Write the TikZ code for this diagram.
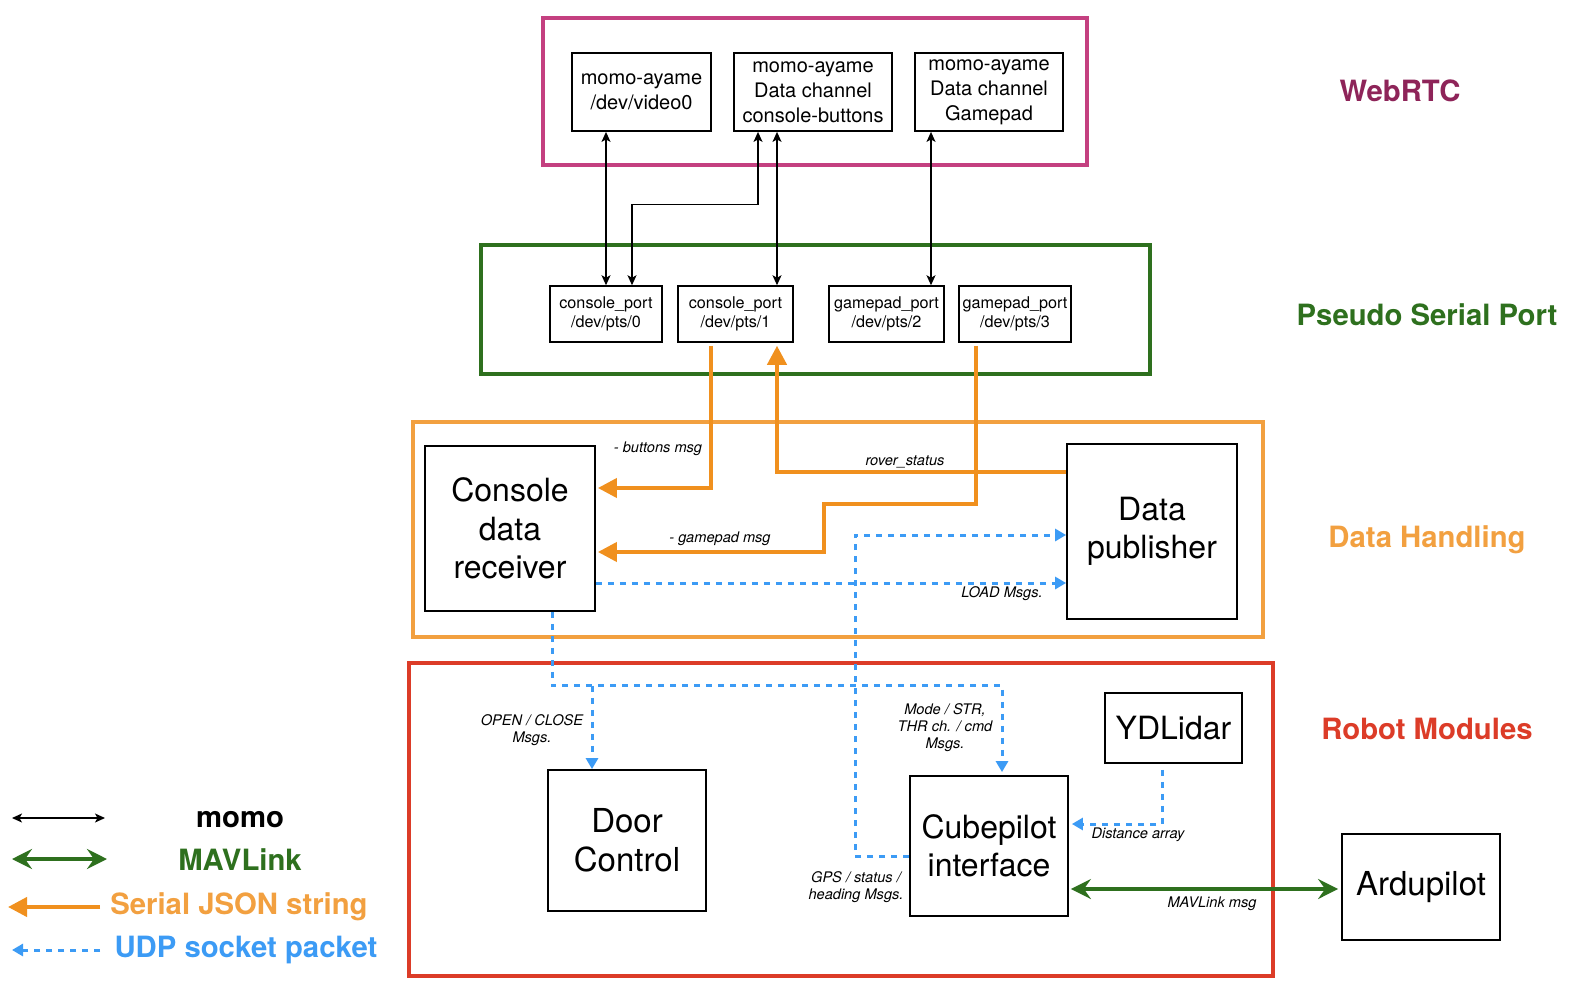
\documentclass[tikz,border=0pt]{standalone}
\usepackage{fontspec}
\setmainfont{TeX Gyre Heros}
\usetikzlibrary{arrows.meta,calc}
\definecolor{webc}{RGB}{196,64,128}
\definecolor{webt}{RGB}{142,36,89}
\definecolor{mgreen}{RGB}{46,112,30}
\definecolor{sorange}{RGB}{240,144,30}
\definecolor{borange}{RGB}{242,160,64}
\definecolor{ublue}{RGB}{60,155,245}
\definecolor{rred}{RGB}{220,60,40}
\tikzset{
 box/.style={draw, line width=1.8pt, align=center, inner sep=0pt},
 topbox/.style={box, font=\fontsize{20}{25}\selectfont},
 portbox/.style={box, line width=1.5pt, font=\fontsize{16.2}{19}\selectfont, minimum height=56pt},
 bigbox/.style={box, font=\fontsize{32}{38.5}\selectfont},
 grp/.style={draw, line width=3.2pt, inner sep=0pt},
 momo/.style={line width=1.4pt, {Stealth[length=10pt,width=9pt,inset=2.5pt]}-{Stealth[length=10pt,width=9pt,inset=2.5pt]}},
 serial/.style={draw=sorange, line width=4pt, -{Triangle[length=19pt,width=19pt]}},
 udp/.style={draw=ublue, line width=3pt, dash pattern=on 6pt off 6pt, -{Triangle[length=11pt,width=12pt]}},
 mav/.style={draw=mgreen, line width=4pt, {Stealth[length=20pt,width=20pt,inset=7pt]}-{Stealth[length=20pt,width=20pt,inset=7pt]}},
 lbl/.style={font=\itshape\fontsize{14.6}{17}\selectfont, align=center, inner sep=0pt},
 title/.style={font=\bfseries\fontsize{29.3}{34}\selectfont, inner sep=0pt},
}
\begin{document}
\begin{tikzpicture}[x=1pt,y=-1pt]
\useasboundingbox[fill=white] (0,0) rectangle (1580,998);

% groups
\node[grp, draw=webc, minimum width=544pt, minimum height=147pt] (webrtc) at (815,91.5) {};
\node[grp, draw=mgreen, minimum width=669pt, minimum height=129pt] (pseudo) at (815.5,309.5) {};
\node[grp, draw=borange, minimum width=850pt, minimum height=215pt] (datah) at (838,529.5) {};
\node[grp, draw=rred, minimum width=864pt, minimum height=313pt] (robot) at (841,819.5) {};

% titles
\node[title, text=webt] (t1) at (1400,91) {WebRTC};
\node[title, text=mgreen] (t2) at (1427,315) {Pseudo Serial Port};
\node[title, text=borange] (t3) at (1427,540) {Data Handling};
\node[title, text=rred] (t4) at (1427,729) {Robot Modules};

% WebRTC boxes
\node[topbox, minimum width=139pt, minimum height=78pt] (v0) at (641.5,92) {momo-ayame\\/dev/video0};
\node[topbox, minimum width=158pt, minimum height=78pt] (dc1) at (813,92) {momo-ayame\\Data channel\\console-buttons};
\node[topbox, minimum width=148pt, minimum height=78pt] (dc2) at (989,92) {momo-ayame\\Data channel\\Gamepad};

% ports
\node[portbox, minimum width=112pt] (p0) at (606,314) {console\_port\\/dev/pts/0};
\node[portbox, minimum width=115pt] (p1) at (735.5,314) {console\_port\\/dev/pts/1};
\node[portbox, minimum width=115pt] (p2) at (886.5,314) {gamepad\_port\\/dev/pts/2};
\node[portbox, minimum width=112pt] (p3) at (1015,314) {gamepad\_port\\/dev/pts/3};

% data handling
\node[bigbox, minimum width=170pt, minimum height=165pt] (cdr) at (510,528.5) {Console\\data\\receiver};
\node[bigbox, minimum width=170pt, minimum height=175pt] (dp) at (1152,531.5) {Data\\publisher};

% robot modules
\node[bigbox, font=\fontsize{33}{39}\selectfont, minimum width=158pt, minimum height=141pt] (door) at (627,840.5) {Door\\Control};
\node[bigbox, minimum width=158pt, minimum height=140pt] (cp) at (989,846) {Cubepilot\\interface};
\node[bigbox, minimum width=137pt, minimum height=70pt] (yd) at (1173.5,728) {YDLidar};
\node[bigbox, font=\fontsize{33}{39}\selectfont, minimum width=158pt, minimum height=106pt] (ar) at (1421,887) {Ardupilot};

% momo arrows
\draw[momo] (p0.north) -- (p0.north |- v0.south);
\draw[momo] ([xshift=26pt]p0.north) -- ++(0,-81) -| ([xshift=-55pt]dc1.south);
\coordinate (c1) at ([xshift=41.5pt]p1.north);
\draw[momo] (c1) -- (c1 |- dc1.south);
\coordinate (c2) at ([xshift=44.5pt]p2.north);
\draw[momo] (c2) -- (c2 |- dc2.south);

% serial arrows
\coordinate (b1) at ([xshift=-24.5pt,yshift=-3pt]p1.south);
\coordinate (b2) at ([yshift=40.5pt]cdr.east);
\draw[serial, shorten >=2pt] (b1) |- (b2);
\coordinate (r1) at ([yshift=59.5pt]dp.west);
\coordinate (r2) at ([xshift=41.5pt,yshift=-3pt]p1.south);
\draw[serial] (r1) -| (r2);
\coordinate (g0) at ([xshift=-39pt,yshift=-3pt]p3.south);
\coordinate (g1) at (824,504);
\coordinate (g2) at ([yshift=-23.5pt]cdr.east);
\draw[serial, shorten >=2pt] (g0) |- (g1) |- (g2);

% udp arrows
\coordinate (ld) at ([yshift=-54.5pt]cdr.east);
\draw[udp] (ld) -- (ld -| dp.west);
\coordinate (gp) at ([yshift=-3.5pt]dp.west);
\draw[udp] ([yshift=-10pt]cp.west) -- ++(-54,0) |- (gp);
\coordinate (jn) at ([xshift=42pt,yshift=-74pt]cdr.south);
\draw[udp, shorten >=3pt] ([xshift=42pt]cdr.south) -- (jn) -| ([xshift=13pt]cp.north);
\coordinate (dn) at ([xshift=-35pt]door.north);
\draw[udp] (dn |- jn) -- (dn);
\coordinate (y0) at ([xshift=-11.5pt,yshift=-6pt]yd.south);
\coordinate (y1) at ([yshift=22pt]cp.east);
\draw[udp, shorten >=3pt] (y0) |- (y1);

% mavlink
\coordinate (m1) at ([yshift=-43pt]cp.east);
\draw[mav, shorten <=2pt, shorten >=3pt] (m1) -- (m1 -| ar.west);

% labels
\node[lbl] (L1) at (658,449) {- buttons msg};
\node[lbl] (L2) at (905,462) {rover\_status};
\node[lbl] (L3) at (720,539) {- gamepad msg};
\node[lbl] (L4) at (1002,594) {LOAD Msgs.};
\node[lbl] (L5) at (532,730) {OPEN / CLOSE\\Msgs.};
\node[lbl] (L6) at (945,728) {Mode / STR,\\THR ch. / cmd\\Msgs.};
\node[lbl] (L7) at (856,887) {GPS / status /\\heading Msgs.};
\node[lbl] (L8) at (1138,835) {Distance array};
\node[lbl] (L9) at (1212,904) {MAVLink msg};

% legend
\coordinate (lm1) at (12,818); \coordinate (lm2) at (105,818);
\draw[momo] (lm1) -- (lm2);
\coordinate (lv1) at (12,859); \coordinate (lv2) at (107,859);
\draw[mav] (lv1) -- (lv2);
\coordinate (ls1) at (100,907); \coordinate (ls2) at (8,907);
\draw[serial] (ls1) -- (ls2);
\coordinate (lu1) at (100,950); \coordinate (lu2) at (12,950);
\draw[udp] (lu1) -- (lu2);
\node[title] (k1) at (240,820) {momo};
\node[title, text=mgreen] (k2) at (240,860) {MAVLink};
\node[title, text=borange] (k3) at (239,907) {Serial JSON string};
\node[title, text=ublue] (k4) at (246,950) {UDP socket packet};
\end{tikzpicture}
\end{document}
